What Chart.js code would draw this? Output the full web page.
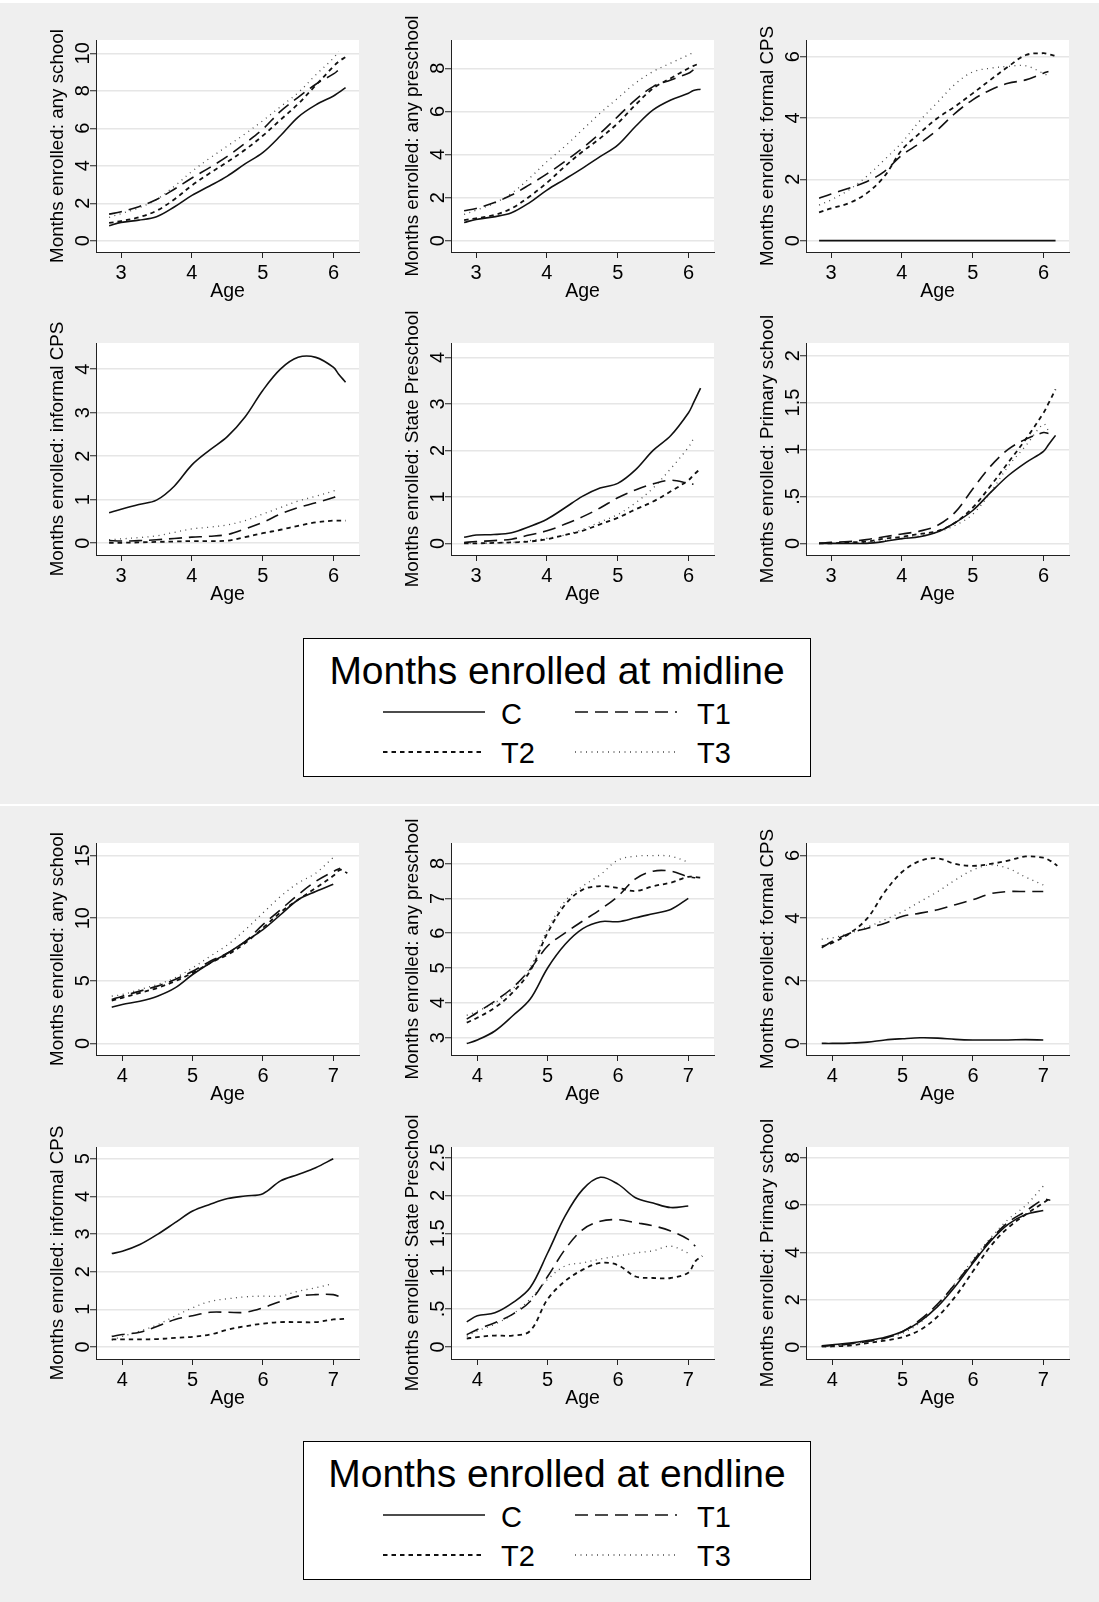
<!DOCTYPE html>
<html>
<head>
<meta charset="utf-8">
<script src="https://cdn.jsdelivr.net/npm/chart.js@4.4.0/dist/chart.umd.min.js"></script>
<style>
  body { margin: 0; background: #efefef; }
  #page { position: relative; width: 1099px; height: 1602px; background: #efefef; overflow: hidden;
          font-family: "Liberation Sans", Arial, Helvetica, sans-serif; }
  .strip { position: absolute; left: 0; width: 1099px; background: #fff; }
  canvas { position: absolute; }
  svg.legend { position: absolute; }
</style>
</head>
<body>
<div id="page">
  <div class="strip" style="top:0;height:3px"></div>
  <div class="strip" style="top:804px;height:2px"></div>
</div>
<script>
// ages at which the smoothed curves are evaluated
const midAge = [2.83, 3, 3.25, 3.5, 3.75, 4, 4.25, 4.5, 4.75, 5, 5.25, 5.5, 5.75, 6, 6.07, 6.17];
const endAge = [3.85, 4, 4.25, 4.5, 4.75, 5, 5.25, 5.5, 5.75, 6, 6.25, 6.5, 6.75, 7, 7.1, 7.2];
const midAgeTicks = [3, 4, 5, 6];
const endAgeTicks = [4, 5, 6, 7];

const groups = ['C', 'T1', 'T2', 'T3'];

// --- midline ---
const anySchoolMidC  = [0.8, 0.98, 1.1, 1.28, 1.8, 2.42, 2.92, 3.45, 4.1, 4.7, 5.6, 6.6, 7.25, 7.72, 7.9, 8.17];
const anySchoolMidT1 = [1.42, 1.55, 1.82, 2.2, 2.75, 3.35, 3.9, 4.5, 5.2, 5.95, 6.9, 7.65, 8.35, 8.9, 9.1, null];
const anySchoolMidT2 = [0.95, 1.05, 1.25, 1.6, 2.2, 2.95, 3.6, 4.2, 4.85, 5.6, 6.45, 7.3, 8.3, 9.3, 9.55, 9.8];
const anySchoolMidT3 = [1.25, 1.45, 1.75, 2.2, 2.9, 3.7, 4.4, 5.05, 5.7, 6.4, 7.15, 7.9, 8.85, 9.75, 10.1, null];

const anyPreMidC  = [0.85, 0.99, 1.11, 1.3, 1.76, 2.35, 2.85, 3.36, 3.9, 4.44, 5.3, 6.07, 6.53, 6.84, 6.97, 7.03];
const anyPreMidT1 = [1.39, 1.5, 1.76, 2.12, 2.59, 3.1, 3.67, 4.29, 4.98, 5.76, 6.53, 7.15, 7.46, 7.77, 7.93, null];
const anyPreMidT2 = [0.96, 1.04, 1.19, 1.5, 2.04, 2.69, 3.44, 4.13, 4.75, 5.45, 6.3, 7.07, 7.54, 8.0, 8.11, 8.24];
const anyPreMidT3 = [1.22, 1.42, 1.73, 2.2, 2.89, 3.67, 4.37, 5.14, 5.91, 6.61, 7.31, 7.85, 8.24, 8.62, 8.73, null];

const formalMidC  = [0, 0, 0, 0, 0, 0, 0, 0, 0, 0, 0, 0, 0, 0, 0, 0];
const formalMidT1 = [1.38, 1.52, 1.71, 1.92, 2.25, 2.79, 3.17, 3.61, 4.15, 4.59, 4.91, 5.13, 5.24, 5.46, 5.51, null];
const formalMidT2 = [0.92, 1.05, 1.22, 1.54, 2.09, 2.96, 3.5, 3.99, 4.37, 4.8, 5.24, 5.67, 6.05, 6.11, 6.08, 6.02];
const formalMidT3 = [1.16, 1.33, 1.65, 2.09, 2.63, 3.2, 3.9, 4.5, 5.1, 5.5, 5.62, 5.68, 5.7, 5.45, 5.37, null];

const informalMidC  = [0.7, 0.78, 0.89, 0.99, 1.31, 1.8, 2.14, 2.45, 2.9, 3.51, 4.0, 4.27, 4.27, 4.04, 3.89, 3.7];
const informalMidT1 = [0.06, 0.05, 0.06, 0.08, 0.11, 0.14, 0.16, 0.2, 0.33, 0.48, 0.67, 0.82, 0.93, 1.05, 1.12, null];
const informalMidT2 = [0.01, 0.01, 0.02, 0.03, 0.04, 0.05, 0.05, 0.06, 0.14, 0.23, 0.31, 0.4, 0.48, 0.52, 0.52, 0.52];
const informalMidT3 = [0.08, 0.1, 0.13, 0.17, 0.25, 0.33, 0.37, 0.42, 0.52, 0.67, 0.82, 0.97, 1.08, 1.2, 1.23, null];

const stateMidC  = [0.13, 0.18, 0.19, 0.23, 0.36, 0.52, 0.76, 1.01, 1.19, 1.29, 1.58, 2.0, 2.32, 2.81, 3.02, 3.34];
const stateMidT1 = [0.02, 0.04, 0.06, 0.09, 0.18, 0.27, 0.41, 0.57, 0.76, 0.98, 1.15, 1.28, 1.36, 1.29, 1.27, null];
const stateMidT2 = [0, 0, 0.01, 0.02, 0.04, 0.09, 0.18, 0.27, 0.41, 0.55, 0.73, 0.9, 1.12, 1.36, 1.47, 1.61];
const stateMidT3 = [0, 0, 0.01, 0.02, 0.06, 0.11, 0.18, 0.3, 0.46, 0.62, 0.87, 1.19, 1.61, 2.07, 2.25, null];

const primaryMidC  = [0, 0, 0, 0, 0.02, 0.05, 0.07, 0.12, 0.22, 0.35, 0.54, 0.72, 0.86, 0.98, 1.05, 1.15];
const primaryMidT1 = [0, 0.01, 0.02, 0.04, 0.07, 0.1, 0.13, 0.19, 0.33, 0.58, 0.82, 1.0, 1.11, 1.18, 1.17, null];
const primaryMidT2 = [0, 0, 0.01, 0.02, 0.05, 0.07, 0.1, 0.13, 0.22, 0.38, 0.61, 0.86, 1.11, 1.39, 1.49, 1.64];
const primaryMidT3 = [0, 0, 0, 0.01, 0.03, 0.05, 0.08, 0.12, 0.19, 0.31, 0.54, 0.82, 1.04, 1.27, 1.2, null];

// --- endline ---
const anySchoolEndC  = [2.89, 3.11, 3.37, 3.77, 4.43, 5.5, 6.42, 7.22, 8.15, 9.08, 10.27, 11.47, 12.13, 12.7, null, null];
const anySchoolEndT1 = [3.5, 3.77, 4.17, 4.57, 5.1, 5.76, 6.56, 7.22, 8.15, 9.48, 10.67, 11.87, 12.93, 13.72, 13.99, null];
const anySchoolEndT2 = [3.42, 3.64, 4.03, 4.43, 4.96, 5.63, 6.42, 7.09, 8.02, 9.21, 10.46, 11.47, 12.4, 13.38, 13.86, 13.59];
const anySchoolEndT3 = [3.77, 3.9, 4.3, 4.7, 5.23, 6.03, 6.96, 7.88, 9.08, 10.41, 11.73, 12.8, 13.59, 14.85, null, null];

const anyPreEndC  = [2.83, 2.93, 3.19, 3.62, 4.1, 5.0, 5.68, 6.13, 6.33, 6.33, 6.44, 6.56, 6.68, 7.0, null, null];
const anyPreEndT1 = [3.53, 3.72, 4.05, 4.43, 4.96, 5.63, 6.01, 6.35, 6.68, 7.06, 7.56, 7.78, 7.78, 7.62, 7.59, null];
const anyPreEndT2 = [3.43, 3.57, 3.86, 4.29, 4.91, 6.01, 6.82, 7.25, 7.35, 7.3, 7.21, 7.35, 7.45, 7.62, 7.61, 7.59];
const anyPreEndT3 = [3.64, 3.76, 4.0, 4.39, 5.01, 6.11, 6.92, 7.35, 7.68, 8.1, 8.21, 8.23, 8.21, 8.04, null, null];

const formalEndC  = [0, 0, 0.01, 0.04, 0.11, 0.15, 0.18, 0.17, 0.13, 0.11, 0.11, 0.11, 0.12, 0.11, null, null];
const formalEndT1 = [3.05, 3.26, 3.52, 3.68, 3.84, 4.06, 4.16, 4.27, 4.43, 4.59, 4.78, 4.85, 4.85, 4.85, null, null];
const formalEndT2 = [3.1, 3.21, 3.52, 4.0, 4.85, 5.49, 5.83, 5.91, 5.73, 5.67, 5.73, 5.84, 5.97, 5.93, 5.83, 5.67];
const formalEndT3 = [3.33, 3.37, 3.52, 3.72, 3.95, 4.21, 4.53, 4.85, 5.22, 5.54, 5.7, 5.59, 5.31, 5.06, null, null];

const informalEndC  = [2.48, 2.54, 2.72, 2.99, 3.3, 3.61, 3.79, 3.94, 4.01, 4.07, 4.41, 4.58, 4.76, 5.0, null, null];
const informalEndT1 = [0.28, 0.33, 0.39, 0.55, 0.73, 0.83, 0.92, 0.92, 0.92, 1.04, 1.21, 1.35, 1.39, 1.39, 1.33, null];
const informalEndT2 = [0.2, 0.2, 0.2, 0.21, 0.24, 0.27, 0.33, 0.46, 0.55, 0.62, 0.66, 0.66, 0.66, 0.73, 0.74, 0.75];
const informalEndT3 = [0.18, 0.28, 0.42, 0.59, 0.82, 1.04, 1.21, 1.28, 1.33, 1.35, 1.35, 1.48, 1.57, 1.68, null, null];

const stateEndC  = [0.33, 0.41, 0.45, 0.58, 0.78, 1.24, 1.73, 2.08, 2.24, 2.15, 1.97, 1.9, 1.84, 1.86, null, null];
const stateEndT1 = [0.16, 0.23, 0.32, 0.43, 0.6, 0.93, 1.29, 1.55, 1.66, 1.68, 1.64, 1.6, 1.53, 1.42, 1.33, null];
const stateEndT2 = [0.11, 0.13, 0.15, 0.15, 0.21, 0.63, 0.87, 1.02, 1.11, 1.08, 0.93, 0.91, 0.91, 0.98, 1.13, 1.2];
const stateEndT3 = [0.14, 0.21, 0.3, 0.43, 0.63, 0.89, 1.07, 1.11, 1.16, 1.2, 1.24, 1.27, 1.33, 1.24, null, null];

const primaryEndC  = [0.06, 0.1, 0.17, 0.28, 0.42, 0.66, 1.09, 1.72, 2.57, 3.55, 4.47, 5.18, 5.6, 5.77, null, null];
const primaryEndT1 = [0.03, 0.07, 0.14, 0.24, 0.38, 0.66, 1.16, 1.83, 2.68, 3.62, 4.54, 5.27, 5.74, 6.23, 6.2, null];
const primaryEndT2 = [0.03, 0.03, 0.07, 0.17, 0.28, 0.42, 0.73, 1.3, 2.14, 3.2, 4.26, 5.04, 5.6, 6.09, 6.3, null];
const primaryEndT3 = [0.03, 0.06, 0.13, 0.24, 0.38, 0.59, 1.04, 1.79, 2.71, 3.7, 4.61, 5.39, 5.98, 6.8, null, null];

// y tick values per panel
const ticksAnySchoolMid = [0, 2, 4, 6, 8, 10];
const ticksAnyPreMid = [0, 2, 4, 6, 8];
const ticksFormalMid = [0, 2, 4, 6];
const ticksInformalMid = [0, 1, 2, 3, 4];
const ticksStateMid = [0, 1, 2, 3, 4];
const ticksPrimaryMid = [0, 0.5, 1, 1.5, 2];
const ticksAnySchoolEnd = [0, 5, 10, 15];
const ticksAnyPreEnd = [3, 4, 5, 6, 7, 8];
const ticksFormalEnd = [0, 2, 4, 6];
const ticksInformalEnd = [0, 1, 2, 3, 4, 5];
const ticksStateEnd = [0, 0.5, 1, 1.5, 2, 2.5];
const ticksPrimaryEnd = [0, 2, 4, 6, 8];

// line look per group: solid, long dash, short dash, dots
const dashes = [[], [13, 7], [4.5, 4], [1, 4.5]];
const widths = [1.6, 1.6, 1.8, 1.3];
const colors = ['#111', '#111', '#111', '#4a4a4a'];

// geometry
const colLeft = [96, 451, 806];
const rowTop = [40, 343, 843, 1147];
const PLOT_W = 263, PLOT_H = 212;
const AXIS_W = 96, AXIS_H = 62, PAD_T = 50, PAD_R = 4;
const FONT = '"Liberation Sans", Arial, Helvetica, sans-serif';
const TICK_PX = 20, YTITLE_PX = 18.8, XTITLE_PX = 19.5;

const panels = [
  { row: 0, col: 0, title: 'Months enrolled: any school', age: midAge, xt: midAgeTicks, x: [2.645, 6.36], y: [-0.6, 10.71], yt: ticksAnySchoolMid,
    s: [anySchoolMidC, anySchoolMidT1, anySchoolMidT2, anySchoolMidT3] },
  { row: 0, col: 1, title: 'Months enrolled: any preschool', age: midAge, xt: midAgeTicks, x: [2.645, 6.36], y: [-0.52, 9.31], yt: ticksAnyPreMid,
    s: [anyPreMidC, anyPreMidT1, anyPreMidT2, anyPreMidT3] },
  { row: 0, col: 2, title: 'Months enrolled: formal CPS', age: midAge, xt: midAgeTicks, x: [2.645, 6.36], y: [-0.37, 6.54], yt: ticksFormalMid,
    s: [formalMidC, formalMidT1, formalMidT2, formalMidT3] },
  { row: 1, col: 0, title: 'Months enrolled: informal CPS', age: midAge, xt: midAgeTicks, x: [2.645, 6.36], y: [-0.27, 4.6], yt: ticksInformalMid,
    s: [informalMidC, informalMidT1, informalMidT2, informalMidT3] },
  { row: 1, col: 1, title: 'Months enrolled: State Preschool', age: midAge, xt: midAgeTicks, x: [2.645, 6.36], y: [-0.25, 4.31], yt: ticksStateMid,
    s: [stateMidC, stateMidT1, stateMidT2, stateMidT3] },
  { row: 1, col: 2, title: 'Months enrolled: Primary school', age: midAge, xt: midAgeTicks, x: [2.645, 6.36], y: [-0.124, 2.134], yt: ticksPrimaryMid,
    s: [primaryMidC, primaryMidT1, primaryMidT2, primaryMidT3] },
  { row: 2, col: 0, title: 'Months enrolled: any school', age: endAge, xt: endAgeTicks, x: [3.626, 7.366], y: [-0.93, 16.0], yt: ticksAnySchoolEnd,
    s: [anySchoolEndC, anySchoolEndT1, anySchoolEndT2, anySchoolEndT3] },
  { row: 2, col: 1, title: 'Months enrolled: any preschool', age: endAge, xt: endAgeTicks, x: [3.626, 7.366], y: [2.5, 8.59], yt: ticksAnyPreEnd,
    s: [anyPreEndC, anyPreEndT1, anyPreEndT2, anyPreEndT3] },
  { row: 2, col: 2, title: 'Months enrolled: formal CPS', age: endAge, xt: endAgeTicks, x: [3.626, 7.366], y: [-0.37, 6.4], yt: ticksFormalEnd,
    s: [formalEndC, formalEndT1, formalEndT2, formalEndT3] },
  { row: 3, col: 0, title: 'Months enrolled: informal CPS', age: endAge, xt: endAgeTicks, x: [3.626, 7.366], y: [-0.32, 5.31], yt: ticksInformalEnd,
    s: [informalEndC, informalEndT1, informalEndT2, informalEndT3] },
  { row: 3, col: 1, title: 'Months enrolled: State Preschool', age: endAge, xt: endAgeTicks, x: [3.626, 7.366], y: [-0.16, 2.64], yt: ticksStateEnd,
    s: [stateEndC, stateEndT1, stateEndT2, stateEndT3] },
  { row: 3, col: 2, title: 'Months enrolled: Primary school', age: endAge, xt: endAgeTicks, x: [3.626, 7.366], y: [-0.5, 8.45], yt: ticksPrimaryEnd,
    s: [primaryEndC, primaryEndT1, primaryEndT2, primaryEndT3] }
];

const page = document.getElementById('page');

// white plot region behind the curves
const plotBg = {
  id: 'plotBg',
  beforeDraw(chart) {
    const { ctx, chartArea: a } = chart;
    ctx.save();
    ctx.fillStyle = '#fff';
    ctx.fillRect(a.left, a.top, a.width, a.height);
    ctx.restore();
  }
};

// Stata-style labels: .5 instead of 0.5
function fmtTick(v) {
  return String(v).replace(/^0\./, '.');
}

const measureCtx = document.createElement('canvas').getContext('2d');
measureCtx.font = TICK_PX + 'px ' + FONT;

function drawPanel(p) {
  const cv = document.createElement('canvas');
  cv.width = AXIS_W + PLOT_W + PAD_R;
  cv.height = PAD_T + PLOT_H + AXIS_H;
  cv.style.left = (colLeft[p.col] - AXIS_W) + 'px';
  cv.style.top = (rowTop[p.row] - PAD_T) + 'px';
  page.appendChild(cv);

  // rotated y labels: centre them ~12px left of the axis
  const widest = Math.max(...p.yt.map(v => measureCtx.measureText(fmtTick(v)).width));
  const yPad = 6.5 - widest / 2;

  const datasets = p.s.map((vals, i) => ({
    label: groups[i],
    data: p.age.map((a, k) => ({ x: a, y: vals[k] })).filter(pt => pt.y !== null),
    borderColor: colors[i],
    borderWidth: widths[i],
    borderDash: dashes[i],
    borderCapStyle: 'butt',
    pointRadius: 0,
    tension: 0.35,
    fill: false
  }));

  new Chart(cv, {
    type: 'line',
    data: { datasets },
    plugins: [plotBg],
    options: {
      responsive: false,
      animation: false,
      devicePixelRatio: 1,
      layout: { padding: { left: 0, top: PAD_T, right: PAD_R, bottom: 0 } },
      plugins: { legend: { display: false }, tooltip: { enabled: false } },
      scales: {
        x: {
          type: 'linear',
          min: p.x[0], max: p.x[1],
          afterBuildTicks: ax => { ax.ticks = p.xt.map(v => ({ value: v })); },
          afterFit: ax => { ax.height = AXIS_H; },
          ticks: { autoSkip: false, maxRotation: 0, padding: 3, color: '#000',
                   font: { family: FONT, size: TICK_PX }, callback: v => fmtTick(v) },
          grid: { drawOnChartArea: false, tickLength: 6, tickColor: '#222', tickWidth: 1 },
          border: { color: '#222', width: 1 },
          title: { display: true, text: 'Age', color: '#000',
                   font: { family: FONT, size: XTITLE_PX }, padding: { top: 0, bottom: 10.6 } }
        },
        y: {
          type: 'linear',
          min: p.y[0], max: p.y[1],
          afterBuildTicks: ax => { ax.ticks = p.yt.map(v => ({ value: v })); },
          afterFit: ax => { ax.width = AXIS_W; },
          ticks: { autoSkip: false, minRotation: 90, maxRotation: 90, crossAlign: 'center', padding: yPad,
                   color: '#000', font: { family: FONT, size: TICK_PX }, callback: v => fmtTick(v) },
          grid: { color: '#e6e6e6', lineWidth: 1.5, tickLength: 6, tickColor: '#222', tickWidth: 1 },
          border: { color: '#222', width: 1 },
          title: { display: true, text: p.title, color: '#000',
                   font: { family: FONT, size: YTITLE_PX }, padding: { top: 46.7, bottom: 0 } }
        }
      }
    }
  });
}

panels.forEach(drawPanel);

// legend boxes under each block of six panels
const legendTitles = ['Months enrolled at midline', 'Months enrolled at endline'];
const legendTops = [638, 1441];
const SVG_NS = 'http://www.w3.org/2000/svg';

function svgEl(tag, attrs, text) {
  const el = document.createElementNS(SVG_NS, tag);
  for (const k in attrs) el.setAttribute(k, attrs[k]);
  if (text) el.textContent = text;
  return el;
}

function drawLegend(title, top) {
  const W = 508, H = 139;
  const svg = svgEl('svg', { class: 'legend', width: W, height: H });
  svg.style.left = '303px';
  svg.style.top = top + 'px';
  svg.appendChild(svgEl('rect', { x: 0.5, y: 0.5, width: W - 1, height: H - 1, fill: '#fff', stroke: '#000', 'stroke-width': 1 }));
  svg.appendChild(svgEl('text', { x: W / 2, y: 45.5, 'font-size': 39, 'text-anchor': 'middle', 'font-family': FONT, fill: '#000' }, title));
  const keyX = [80, 272], labelX = [198, 394];
  const lineY = [74, 114], textY = [86, 125];
  groups.forEach((g, i) => {
    const c = i % 2, r = Math.floor(i / 2);
    svg.appendChild(svgEl('line', {
      x1: keyX[c], y1: lineY[r], x2: keyX[c] + 102, y2: lineY[r],
      stroke: colors[i], 'stroke-width': widths[i],
      'stroke-dasharray': dashes[i].length ? dashes[i].join(' ') : 'none'
    }));
    svg.appendChild(svgEl('text', { x: labelX[c], y: textY[r], 'font-size': 29, 'font-family': FONT, fill: '#000' }, g));
  });
  page.appendChild(svg);
}

legendTitles.forEach((t, i) => drawLegend(t, legendTops[i]));
</script>
</body>
</html>
